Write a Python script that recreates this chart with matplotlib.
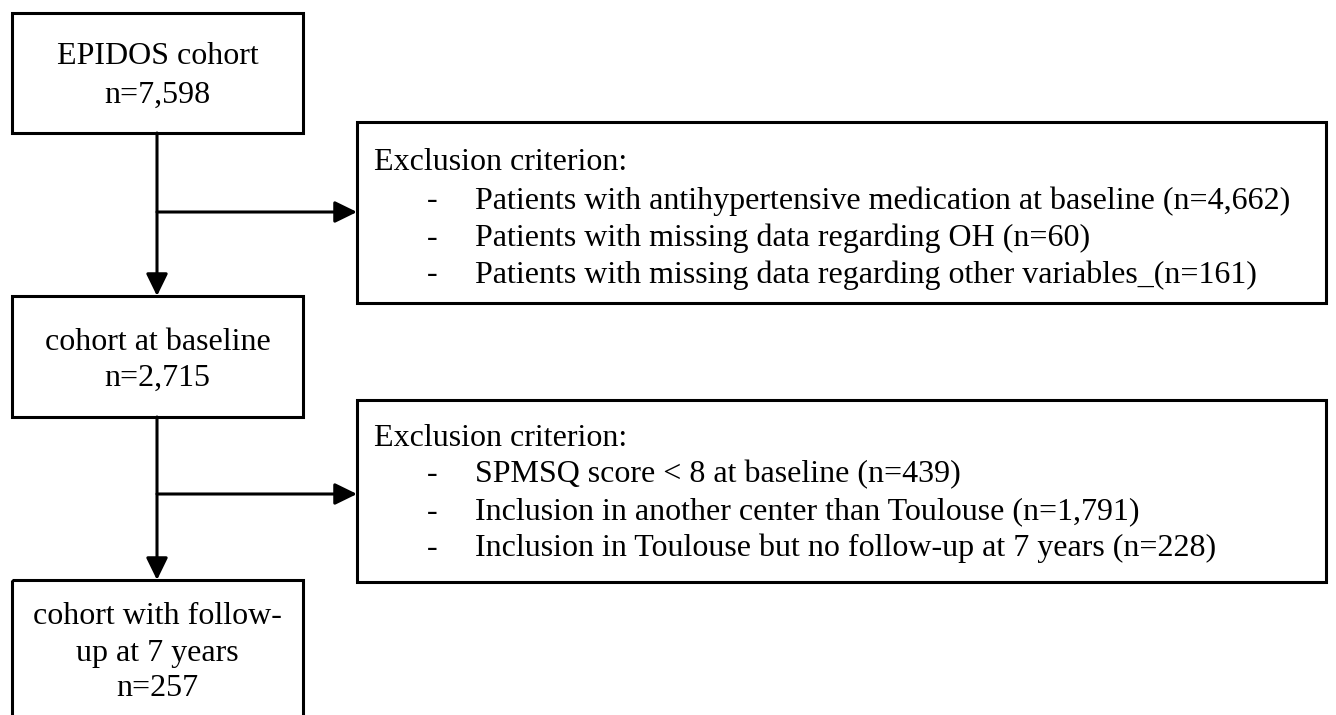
import matplotlib.pyplot as plt
from matplotlib.patches import Rectangle

# box contents
main_boxes = [
    ["EPIDOS cohort", "n=7,598"],
    ["cohort at baseline", "n=2,715"],
    ["cohort with follow-", "up at 7 years", "n=257"],
]
exclusion_title = "Exclusion criterion:"
exclusion_items = [
    [
        "Patients with antihypertensive medication at baseline (n=4,662)",
        "Patients with missing data regarding OH (n=60)",
        "Patients with missing data regarding other variables_(n=161)",
    ],
    [
        "SPMSQ score < 8 at baseline (n=439)",
        "Inclusion in another center than Toulouse (n=1,791)",
        "Inclusion in Toulouse but no follow-up at 7 years (n=228)",
    ],
]

plt.rcParams['font.family'] = ['Liberation Serif', 'DejaVu Serif']
FS = 23
LW = 2.2

fig = plt.figure(figsize=(13.36, 7.15), dpi=100)
ax = fig.add_axes([0, 0, 1, 1])
ax.set_xlim(0, 1336)
ax.set_ylim(715, 0)
ax.axis('off')

# layout (pixel coords)
left_x0, left_x1 = 12, 303
left_boxes_y = [(13, 133), (296, 417), (580, 740)]
left_text_y = [[57, 95], [342, 378], [617, 653, 688]]
right_x0, right_x1 = 357, 1326
right_boxes_y = [(122, 303), (400, 582)]
right_title_y = [162, 438]
right_items_y = [[201, 238, 275], [475, 512, 548]]
branch_y = [212, 494]
spine_x = 157

for (y0, y1), lines, ys in zip(left_boxes_y, main_boxes, left_text_y):
    ax.add_patch(Rectangle((left_x0, y0), left_x1 - left_x0, y1 - y0,
                           fill=False, ec='black', lw=LW, clip_on=False))
    for txt, y in zip(lines, ys):
        ax.text((left_x0 + left_x1) / 2, y, txt, ha='center', va='center', fontsize=FS)

for (y0, y1), ty, items, iys in zip(right_boxes_y, right_title_y, exclusion_items, right_items_y):
    ax.add_patch(Rectangle((right_x0, y0), right_x1 - right_x0, y1 - y0,
                           fill=False, ec='black', lw=LW))
    ax.text(374, ty, exclusion_title, ha='left', va='center', fontsize=FS)
    for txt, y in zip(items, iys):
        ax.text(432, y, "-", ha='center', va='center', fontsize=FS)
        ax.text(475, y, txt, ha='left', va='center', fontsize=FS)

arrow = dict(arrowstyle='-|>,head_length=0.45,head_width=0.22', color='black',
             lw=LW, mutation_scale=30, shrinkA=0, shrinkB=0)
# vertical arrows between main boxes
for (a0, a1), (b0, b1) in zip(left_boxes_y[:-1], left_boxes_y[1:]):
    ax.annotate('', xy=(spine_x, b0), xytext=(spine_x, a1), arrowprops=arrow)
# horizontal arrows to exclusion boxes
for y in branch_y:
    ax.annotate('', xy=(right_x0, y), xytext=(spine_x, y), arrowprops=arrow)

fig.savefig('out.png', dpi=100)
